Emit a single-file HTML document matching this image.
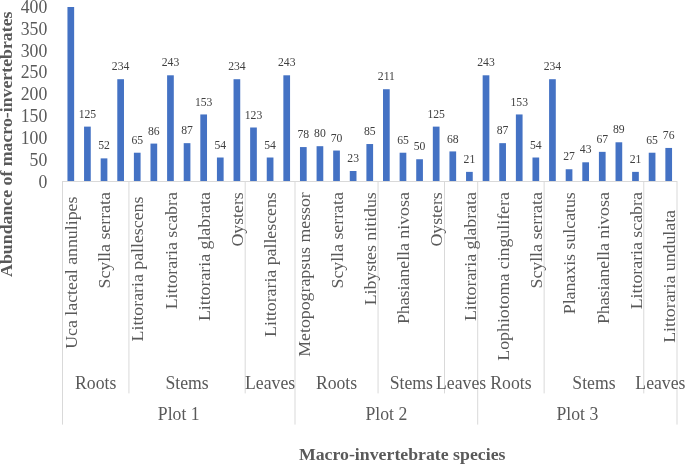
<!DOCTYPE html><html><head><meta charset="utf-8"><style>html,body{margin:0;padding:0;background:#fff;}svg{display:block;will-change:transform;}text{font-family:"Liberation Serif",serif;}</style></head><body>
<svg width="685" height="464" viewBox="0 0 685 464">
<rect width="685" height="464" fill="#fff"/>
<rect x="67.45" y="7.00" width="6.70" height="174.00" fill="#4472C4"/>
<rect x="84.06" y="126.62" width="6.70" height="54.38" fill="#4472C4"/>
<rect x="100.67" y="158.38" width="6.70" height="22.62" fill="#4472C4"/>
<rect x="117.28" y="79.21" width="6.70" height="101.79" fill="#4472C4"/>
<rect x="133.89" y="152.72" width="6.70" height="28.27" fill="#4472C4"/>
<rect x="150.49" y="143.59" width="6.70" height="37.41" fill="#4472C4"/>
<rect x="167.10" y="75.30" width="6.70" height="105.70" fill="#4472C4"/>
<rect x="183.71" y="143.16" width="6.70" height="37.84" fill="#4472C4"/>
<rect x="200.32" y="114.45" width="6.70" height="66.55" fill="#4472C4"/>
<rect x="216.93" y="157.51" width="6.70" height="23.49" fill="#4472C4"/>
<rect x="233.54" y="79.21" width="6.70" height="101.79" fill="#4472C4"/>
<rect x="250.14" y="127.50" width="6.70" height="53.51" fill="#4472C4"/>
<rect x="266.75" y="157.51" width="6.70" height="23.49" fill="#4472C4"/>
<rect x="283.36" y="75.30" width="6.70" height="105.70" fill="#4472C4"/>
<rect x="299.97" y="147.07" width="6.70" height="33.93" fill="#4472C4"/>
<rect x="316.58" y="146.20" width="6.70" height="34.80" fill="#4472C4"/>
<rect x="333.18" y="150.55" width="6.70" height="30.45" fill="#4472C4"/>
<rect x="349.79" y="171.00" width="6.70" height="10.01" fill="#4472C4"/>
<rect x="366.40" y="144.03" width="6.70" height="36.98" fill="#4472C4"/>
<rect x="383.01" y="89.22" width="6.70" height="91.78" fill="#4472C4"/>
<rect x="399.62" y="152.72" width="6.70" height="28.27" fill="#4472C4"/>
<rect x="416.22" y="159.25" width="6.70" height="21.75" fill="#4472C4"/>
<rect x="432.83" y="126.62" width="6.70" height="54.38" fill="#4472C4"/>
<rect x="449.44" y="151.42" width="6.70" height="29.58" fill="#4472C4"/>
<rect x="466.05" y="171.87" width="6.70" height="9.13" fill="#4472C4"/>
<rect x="482.66" y="75.30" width="6.70" height="105.70" fill="#4472C4"/>
<rect x="499.26" y="143.16" width="6.70" height="37.84" fill="#4472C4"/>
<rect x="515.87" y="114.45" width="6.70" height="66.55" fill="#4472C4"/>
<rect x="532.48" y="157.51" width="6.70" height="23.49" fill="#4472C4"/>
<rect x="549.09" y="79.21" width="6.70" height="101.79" fill="#4472C4"/>
<rect x="565.70" y="169.25" width="6.70" height="11.74" fill="#4472C4"/>
<rect x="582.31" y="162.30" width="6.70" height="18.70" fill="#4472C4"/>
<rect x="598.91" y="151.85" width="6.70" height="29.14" fill="#4472C4"/>
<rect x="615.52" y="142.28" width="6.70" height="38.71" fill="#4472C4"/>
<rect x="632.13" y="171.87" width="6.70" height="9.13" fill="#4472C4"/>
<rect x="648.74" y="152.72" width="6.70" height="28.27" fill="#4472C4"/>
<rect x="665.35" y="147.94" width="6.70" height="33.06" fill="#4472C4"/>
<text transform="translate(70.80,-1.90) scale(1,1.14)" font-size="11.7" fill="#404040" text-anchor="middle">400</text>
<text transform="translate(87.41,117.72) scale(1,1.14)" font-size="11.7" fill="#404040" text-anchor="middle">125</text>
<text transform="translate(104.02,149.48) scale(1,1.14)" font-size="11.7" fill="#404040" text-anchor="middle">52</text>
<text transform="translate(120.63,70.31) scale(1,1.14)" font-size="11.7" fill="#404040" text-anchor="middle">234</text>
<text transform="translate(137.24,143.82) scale(1,1.14)" font-size="11.7" fill="#404040" text-anchor="middle">65</text>
<text transform="translate(153.84,134.69) scale(1,1.14)" font-size="11.7" fill="#404040" text-anchor="middle">86</text>
<text transform="translate(170.45,66.39) scale(1,1.14)" font-size="11.7" fill="#404040" text-anchor="middle">243</text>
<text transform="translate(187.06,134.25) scale(1,1.14)" font-size="11.7" fill="#404040" text-anchor="middle">87</text>
<text transform="translate(203.67,105.55) scale(1,1.14)" font-size="11.7" fill="#404040" text-anchor="middle">153</text>
<text transform="translate(220.28,148.61) scale(1,1.14)" font-size="11.7" fill="#404040" text-anchor="middle">54</text>
<text transform="translate(236.89,70.31) scale(1,1.14)" font-size="11.7" fill="#404040" text-anchor="middle">234</text>
<text transform="translate(253.49,118.59) scale(1,1.14)" font-size="11.7" fill="#404040" text-anchor="middle">123</text>
<text transform="translate(270.10,148.61) scale(1,1.14)" font-size="11.7" fill="#404040" text-anchor="middle">54</text>
<text transform="translate(286.71,66.39) scale(1,1.14)" font-size="11.7" fill="#404040" text-anchor="middle">243</text>
<text transform="translate(303.32,138.17) scale(1,1.14)" font-size="11.7" fill="#404040" text-anchor="middle">78</text>
<text transform="translate(319.93,137.30) scale(1,1.14)" font-size="11.7" fill="#404040" text-anchor="middle">80</text>
<text transform="translate(336.53,141.65) scale(1,1.14)" font-size="11.7" fill="#404040" text-anchor="middle">70</text>
<text transform="translate(353.14,162.09) scale(1,1.14)" font-size="11.7" fill="#404040" text-anchor="middle">23</text>
<text transform="translate(369.75,135.12) scale(1,1.14)" font-size="11.7" fill="#404040" text-anchor="middle">85</text>
<text transform="translate(386.36,80.31) scale(1,1.14)" font-size="11.7" fill="#404040" text-anchor="middle">211</text>
<text transform="translate(402.97,143.82) scale(1,1.14)" font-size="11.7" fill="#404040" text-anchor="middle">65</text>
<text transform="translate(419.57,150.35) scale(1,1.14)" font-size="11.7" fill="#404040" text-anchor="middle">50</text>
<text transform="translate(436.18,117.72) scale(1,1.14)" font-size="11.7" fill="#404040" text-anchor="middle">125</text>
<text transform="translate(452.79,142.52) scale(1,1.14)" font-size="11.7" fill="#404040" text-anchor="middle">68</text>
<text transform="translate(469.40,162.97) scale(1,1.14)" font-size="11.7" fill="#404040" text-anchor="middle">21</text>
<text transform="translate(486.01,66.39) scale(1,1.14)" font-size="11.7" fill="#404040" text-anchor="middle">243</text>
<text transform="translate(502.61,134.25) scale(1,1.14)" font-size="11.7" fill="#404040" text-anchor="middle">87</text>
<text transform="translate(519.22,105.55) scale(1,1.14)" font-size="11.7" fill="#404040" text-anchor="middle">153</text>
<text transform="translate(535.83,148.61) scale(1,1.14)" font-size="11.7" fill="#404040" text-anchor="middle">54</text>
<text transform="translate(552.44,70.31) scale(1,1.14)" font-size="11.7" fill="#404040" text-anchor="middle">234</text>
<text transform="translate(569.05,160.35) scale(1,1.14)" font-size="11.7" fill="#404040" text-anchor="middle">27</text>
<text transform="translate(585.66,153.40) scale(1,1.14)" font-size="11.7" fill="#404040" text-anchor="middle">43</text>
<text transform="translate(602.26,142.95) scale(1,1.14)" font-size="11.7" fill="#404040" text-anchor="middle">67</text>
<text transform="translate(618.87,133.38) scale(1,1.14)" font-size="11.7" fill="#404040" text-anchor="middle">89</text>
<text transform="translate(635.48,162.97) scale(1,1.14)" font-size="11.7" fill="#404040" text-anchor="middle">21</text>
<text transform="translate(652.09,143.82) scale(1,1.14)" font-size="11.7" fill="#404040" text-anchor="middle">65</text>
<text transform="translate(668.70,139.04) scale(1,1.14)" font-size="11.7" fill="#404040" text-anchor="middle">76</text>
<text transform="translate(47.3,187.90) scale(1,1.04)" font-size="17.7" fill="#595959" text-anchor="end">0</text>
<text transform="translate(47.3,166.01) scale(1,1.04)" font-size="17.7" fill="#595959" text-anchor="end">50</text>
<text transform="translate(47.3,144.12) scale(1,1.04)" font-size="17.7" fill="#595959" text-anchor="end">100</text>
<text transform="translate(47.3,122.23) scale(1,1.04)" font-size="17.7" fill="#595959" text-anchor="end">150</text>
<text transform="translate(47.3,100.34) scale(1,1.04)" font-size="17.7" fill="#595959" text-anchor="end">200</text>
<text transform="translate(47.3,78.45) scale(1,1.04)" font-size="17.7" fill="#595959" text-anchor="end">250</text>
<text transform="translate(47.3,56.56) scale(1,1.04)" font-size="17.7" fill="#595959" text-anchor="end">300</text>
<text transform="translate(47.3,34.67) scale(1,1.04)" font-size="17.7" fill="#595959" text-anchor="end">350</text>
<text transform="translate(47.3,12.78) scale(1,1.04)" font-size="17.7" fill="#595959" text-anchor="end">400</text>
<g stroke="#D9D9D9" stroke-width="1" fill="none">
<line x1="62.5" y1="181.5" x2="677.0" y2="181.5"/>
<line x1="62.5" y1="181.0" x2="62.5" y2="424.6"/>
<line x1="128.93" y1="181.0" x2="128.93" y2="393.4"/>
<line x1="245.19" y1="181.0" x2="245.19" y2="393.4"/>
<line x1="295.01" y1="181.0" x2="295.01" y2="424.6"/>
<line x1="378.05" y1="181.0" x2="378.05" y2="393.4"/>
<line x1="444.49" y1="181.0" x2="444.49" y2="393.4"/>
<line x1="477.7" y1="181.0" x2="477.7" y2="424.6"/>
<line x1="544.14" y1="181.0" x2="544.14" y2="393.4"/>
<line x1="643.78" y1="181.0" x2="643.78" y2="393.4"/>
<line x1="677.0" y1="181.0" x2="677.0" y2="424.6"/>
</g>
<text transform="translate(77.05,192.2) rotate(-90) scale(1,0.985)" font-size="17.8" fill="#595959" text-anchor="end" xml:space="preserve">Uca lacteal annulipes </text>
<text transform="translate(110.27,192.2) rotate(-90) scale(1,0.985)" font-size="17.8" fill="#595959" text-anchor="end" xml:space="preserve">Scylla serrata</text>
<text transform="translate(143.49,192.2) rotate(-90) scale(1,0.985)" font-size="17.8" fill="#595959" text-anchor="end" xml:space="preserve">Littoraria pallescens </text>
<text transform="translate(176.70,192.2) rotate(-90) scale(1,0.985)" font-size="17.8" fill="#595959" text-anchor="end" xml:space="preserve">Littoraria scabra</text>
<text transform="translate(209.92,192.2) rotate(-90) scale(1,0.985)" font-size="17.8" fill="#595959" text-anchor="end" xml:space="preserve">Littoraria glabrata</text>
<text transform="translate(243.14,192.2) rotate(-90) scale(1,0.985)" font-size="17.8" fill="#595959" text-anchor="end" xml:space="preserve">Oysters</text>
<text transform="translate(276.35,192.2) rotate(-90) scale(1,0.985)" font-size="17.8" fill="#595959" text-anchor="end" xml:space="preserve">Littoraria pallescens</text>
<text transform="translate(309.57,192.2) rotate(-90) scale(1,0.985)" font-size="17.8" fill="#595959" text-anchor="end" xml:space="preserve">Metopograpsus messor</text>
<text transform="translate(342.78,192.2) rotate(-90) scale(1,0.985)" font-size="17.8" fill="#595959" text-anchor="end" xml:space="preserve">Scylla serrata</text>
<text transform="translate(376.00,192.2) rotate(-90) scale(1,0.985)" font-size="17.8" fill="#595959" text-anchor="end" xml:space="preserve">Libystes nitidus</text>
<text transform="translate(409.22,192.2) rotate(-90) scale(1,0.985)" font-size="17.8" fill="#595959" text-anchor="end" xml:space="preserve">Phasianella nivosa</text>
<text transform="translate(442.43,192.2) rotate(-90) scale(1,0.985)" font-size="17.8" fill="#595959" text-anchor="end" xml:space="preserve">Oysters</text>
<text transform="translate(475.65,192.2) rotate(-90) scale(1,0.985)" font-size="17.8" fill="#595959" text-anchor="end" xml:space="preserve">Littoraria glabrata</text>
<text transform="translate(508.86,192.2) rotate(-90) scale(1,0.985)" font-size="17.8" fill="#595959" text-anchor="end" xml:space="preserve">Lophiotoma cingulifera</text>
<text transform="translate(542.08,192.2) rotate(-90) scale(1,0.985)" font-size="17.8" fill="#595959" text-anchor="end" xml:space="preserve">Scylla serrata</text>
<text transform="translate(575.30,192.2) rotate(-90) scale(1,0.985)" font-size="17.8" fill="#595959" text-anchor="end" xml:space="preserve">Planaxis sulcatus</text>
<text transform="translate(608.51,192.2) rotate(-90) scale(1,0.985)" font-size="17.8" fill="#595959" text-anchor="end" xml:space="preserve">Phasianella nivosa</text>
<text transform="translate(641.73,192.2) rotate(-90) scale(1,0.985)" font-size="17.8" fill="#595959" text-anchor="end" xml:space="preserve">Littoraria scabra</text>
<text transform="translate(674.95,192.2) rotate(-90) scale(1,0.985)" font-size="17.8" fill="#595959" text-anchor="end" xml:space="preserve">Littoraria undulata    </text>
<text transform="translate(95.72,388.6) scale(1,1.04)" font-size="17.7" fill="#595959" text-anchor="middle">Roots</text>
<text transform="translate(187.06,388.6) scale(1,1.04)" font-size="17.7" fill="#595959" text-anchor="middle">Stems</text>
<text transform="translate(270.10,388.6) scale(1,1.04)" font-size="17.7" fill="#595959" text-anchor="middle">Leaves</text>
<text transform="translate(336.53,388.6) scale(1,1.04)" font-size="17.7" fill="#595959" text-anchor="middle">Roots</text>
<text transform="translate(411.27,388.6) scale(1,1.04)" font-size="17.7" fill="#595959" text-anchor="middle">Stems</text>
<text transform="translate(461.09,388.6) scale(1,1.04)" font-size="17.7" fill="#595959" text-anchor="middle">Leaves</text>
<text transform="translate(510.92,388.6) scale(1,1.04)" font-size="17.7" fill="#595959" text-anchor="middle">Roots</text>
<text transform="translate(593.96,388.6) scale(1,1.04)" font-size="17.7" fill="#595959" text-anchor="middle">Stems</text>
<text transform="translate(660.39,388.6) scale(1,1.04)" font-size="17.7" fill="#595959" text-anchor="middle">Leaves</text>
<text transform="translate(178.76,420.2) scale(1,1.04)" font-size="17.7" fill="#595959" text-anchor="middle">Plot 1</text>
<text transform="translate(386.36,420.2) scale(1,1.04)" font-size="17.7" fill="#595959" text-anchor="middle">Plot 2</text>
<text transform="translate(577.35,420.2) scale(1,1.04)" font-size="17.7" fill="#595959" text-anchor="middle">Plot 3</text>
<text transform="translate(402.2,459.8) scale(1,0.97)" font-size="17.8" font-weight="bold" fill="#595959" text-anchor="middle">Macro-invertebrate species</text>
<text transform="translate(12.2,144.2) rotate(-90) scale(1,0.97)" font-size="17.8" font-weight="bold" fill="#595959" text-anchor="middle">Abundance of macro-invertebrates</text>
</svg></body></html>
